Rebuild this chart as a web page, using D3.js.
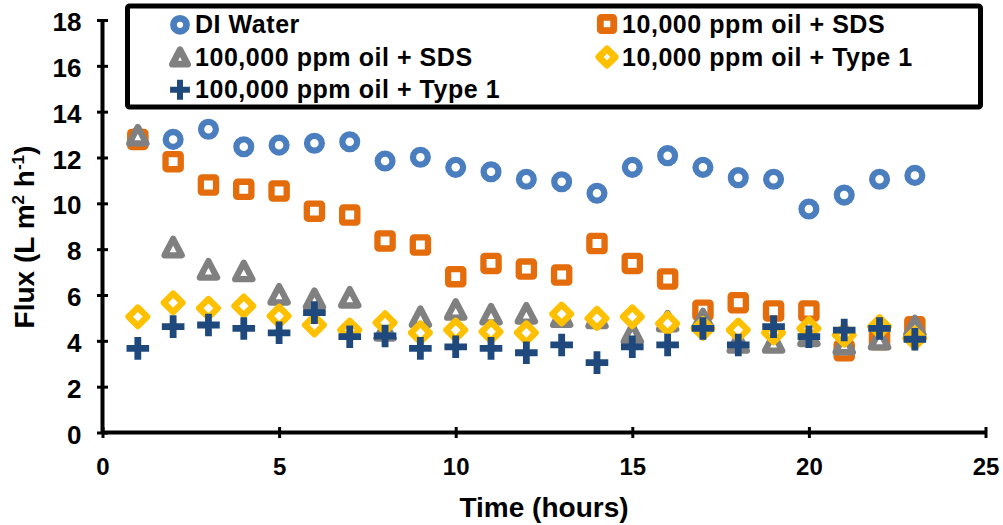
<!DOCTYPE html>
<html>
<head>
<meta charset="utf-8">
<script src="https://cdn.jsdelivr.net/npm/d3@7"></script>
<style>
  html, body { margin: 0; padding: 0; background: #ffffff; }
  svg { display: block; font-family: "Liberation Sans", Arial, sans-serif; font-weight: bold; }
</style>
</head>
<body>
<svg id="chart" width="1003" height="525"></svg>
<script>
// Time axis (hours)
const hours = [1, 2, 3, 4, 5, 6, 7, 8, 9, 10, 11, 12, 13, 14, 15, 16, 17, 18, 19, 20, 21, 22, 23];

// Flux values, L m^-2 h^-1
const diWater     = [12.85, 12.79, 13.23, 12.47, 12.54, 12.62, 12.69, 11.85, 12.01, 11.57, 11.38, 11.05, 10.94, 10.44, 11.57, 12.08, 11.57, 11.12, 11.05, 9.75, 10.36, 11.05, 11.22];
const oil10kSDS   = [12.79, 11.82, 10.80, 10.61, 10.54, 9.66, 9.49, 8.36, 8.18, 6.80, 7.38, 7.13, 6.87, 8.25, 7.38, 6.70, 5.34, 5.66, 5.30, 5.30, 3.57, 4.05, 4.62];
const oil100kSDS  = [12.97, 8.09, 7.12, 7.05, 6.03, 5.84, 5.90, 4.46, 5.05, 5.37, 5.16, 5.20, 5.05, 5.00, 4.33, 4.86, 4.95, 3.93, 3.93, 4.22, 3.86, 4.07, 4.65];
const oil10kType1 = [5.05, 5.66, 5.42, 5.52, 5.08, 4.69, 4.47, 4.79, 4.35, 4.47, 4.40, 4.35, 5.17, 4.98, 5.05, 4.76, 4.54, 4.47, 4.35, 4.54, 4.25, 4.62, 4.11];
const oil100kType1 = [3.67, 4.62, 4.69, 4.54, 4.35, 5.23, 4.18, 4.21, 3.67, 3.74, 3.67, 3.48, 3.82, 3.05, 3.74, 3.82, 4.54, 3.82, 4.62, 4.18, 4.47, 4.54, 4.07];

const seriesNames = ["DI Water", "10,000 ppm oil + SDS", "100,000 ppm oil + SDS", "10,000 ppm oil + Type 1", "100,000 ppm oil + Type 1"];
const xTicks = [0, 5, 10, 15, 20, 25];
const yTicks = [0, 2, 4, 6, 8, 10, 12, 14, 16, 18];

const series = [
  { name: seriesNames[0], values: diWater,      shape: "circle",   color: "#4A7EBF" },
  { name: seriesNames[1], values: oil10kSDS,    shape: "square",   color: "#E46C0A" },
  { name: seriesNames[2], values: oil100kSDS,   shape: "triangle", color: "#808080" },
  { name: seriesNames[3], values: oil10kType1,  shape: "diamond",  color: "#FFC000" },
  { name: seriesNames[4], values: oil100kType1, shape: "plus",     color: "#1F497D" }
];

const svg = d3.select("#chart");
const plot = { left: 102.5, right: 985.5, top: 20, bottom: 432.5 };

const x = d3.scaleLinear().domain([0, 25]).range([plot.left, plot.right]);
const y = d3.scaleLinear().domain([0, 18]).range([plot.bottom, plot.top]);

// Marker outlines drawn around (0,0); s scales the glyph, sw is the outline width
function drawMarker(g, shape, color, s, sw) {
  if (shape === "circle") {
    g.append("circle").attr("r", 7.4 * s)
      .attr("fill", "#fff").attr("stroke", color).attr("stroke-width", sw);
  } else if (shape === "square") {
    const h = 7.6 * s;
    g.append("rect").attr("x", -h).attr("y", -h).attr("width", 2 * h).attr("height", 2 * h)
      .attr("rx", 1.2 * s)
      .attr("fill", "#fff").attr("stroke", color).attr("stroke-width", sw);
  } else if (shape === "triangle") {
    const w = 8.6 * s, h = 8.2 * s;
    g.append("path").attr("d", `M0,${-h}L${w},${h}L${-w},${h}Z`)
      .attr("fill", "#fff").attr("stroke", color).attr("stroke-width", sw)
      .attr("stroke-linejoin", "round");
  } else if (shape === "diamond") {
    const r = 9.3 * s;
    g.append("path").attr("d", `M0,${-r}L${r},0L0,${r}L${-r},0Z`)
      .attr("fill", "#fff").attr("stroke", color).attr("stroke-width", sw)
      .attr("stroke-linejoin", "round");
  } else if (shape === "plus") {
    const a = 11.3 * s, t = 3.4 * s;
    g.append("path")
      .attr("d", `M${-t},${-a}H${t}V${-t}H${a}V${t}H${t}V${a}H${-t}V${t}H${-a}V${-t}H${-t}Z`)
      .attr("fill", color);
  }
}

// Axes with ticks crossing the axis line
const axisStroke = 4;
const xAxis = svg.append("g").attr("transform", `translate(0,${plot.bottom})`)
  .call(d3.axisBottom(x).tickValues(xTicks).tickSize(0).tickPadding(0).tickFormat(""));
xAxis.select(".domain").remove();
xAxis.selectAll(".tick line").remove();
xAxis.append("line").attr("x1", plot.left).attr("x2", plot.right)
  .attr("stroke", "#000").attr("stroke-width", axisStroke);
xAxis.selectAll(".tick").append("line")
  .attr("y1", -5.5).attr("y2", 5.5).attr("stroke", "#000").attr("stroke-width", 3);
xAxis.selectAll(".tick").append("text")
  .attr("y", 42.5).attr("text-anchor", "middle")
  .attr("fill", "#000").attr("font-size", 24).attr("font-weight", "bold")
  .attr("font-family", "Liberation Sans, Arial, sans-serif")
  .text(d => d);

const yAxis = svg.append("g").attr("transform", `translate(${plot.left},0)`)
  .call(d3.axisLeft(y).tickValues(yTicks).tickSize(0).tickPadding(0).tickFormat(""));
yAxis.select(".domain").remove();
yAxis.selectAll(".tick line").remove();
yAxis.append("line").attr("y1", plot.top).attr("y2", plot.bottom)
  .attr("stroke", "#000").attr("stroke-width", axisStroke);
yAxis.selectAll(".tick").append("line")
  .attr("x1", -5.5).attr("x2", 5.5).attr("stroke", "#000").attr("stroke-width", 3);
yAxis.selectAll(".tick").append("text")
  .attr("x", -21).attr("y", 10.5).attr("text-anchor", "end")
  .attr("fill", "#000").attr("font-size", 26).attr("font-weight", "bold")
  .attr("font-family", "Liberation Sans, Arial, sans-serif")
  .text(d => d);

// Axis titles
svg.append("text")
  .attr("x", (plot.left + plot.right) / 2).attr("y", 517)
  .attr("text-anchor", "middle").attr("font-size", 28).attr("fill", "#000")
  .text("Time (hours)");

const yTitle = svg.append("text")
  .attr("transform", "translate(34,237) rotate(-90)")
  .attr("text-anchor", "middle").attr("font-size", 28).attr("fill", "#000");
yTitle.append("tspan").text("Flux (L m");
yTitle.append("tspan").attr("font-size", 17).attr("dy", -10).text("2");
yTitle.append("tspan").attr("dy", 10).text(" h");
yTitle.append("tspan").attr("font-size", 17).attr("dy", -10).text("-1");
yTitle.append("tspan").attr("dy", 10).text(")");

// Data points, one layer per series in legend order
series.forEach(s => {
  const layer = svg.append("g").attr("class", "series");
  layer.selectAll("g.pt")
    .data(hours.map((h, i) => ({ h, v: s.values[i] })))
    .join("g").attr("class", "pt")
    .attr("transform", d => `translate(${x(d.h)},${y(d.v)})`)
    .each(function () { drawMarker(d3.select(this), s.shape, s.color, 1, 6.3); });
});

// Legend box
const legend = svg.append("g");
legend.append("rect").attr("x", 127.5).attr("y", 6).attr("width", 853).attr("height", 101)
  .attr("fill", "#fff").attr("stroke", "#000").attr("stroke-width", 5).attr("rx", 2);

const legendPos = [
  { mx: 180, tx: 195, base: 33.3 },
  { mx: 607, tx: 622, base: 32.5 },
  { mx: 180, tx: 195, base: 65.5 },
  { mx: 607, tx: 622, base: 65.5 },
  { mx: 180, tx: 195, base: 98.3 }
];
series.forEach((s, i) => {
  const p = legendPos[i];
  const m = legend.append("g").attr("transform", `translate(${p.mx},${p.base - 8.5})`);
  drawMarker(m, s.shape, s.color, 0.88, 6.8);
  legend.append("text").attr("x", p.tx).attr("y", p.base)
    .attr("font-size", 25).attr("letter-spacing", 0.55).attr("fill", "#000")
    .text(s.name);
});
</script>
</body>
</html>
